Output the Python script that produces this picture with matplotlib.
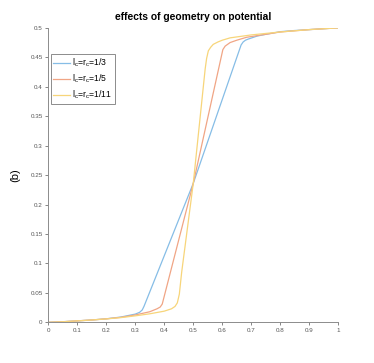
import matplotlib
matplotlib.use('Agg')
from matplotlib import pyplot as plt
from matplotlib.ticker import FuncFormatter

# values
X_THIRD = [0, 0.05, 0.1, 0.15, 0.2, 0.25, 0.3, 0.315, 0.324, 0.33, 0.5,
           0.665, 0.672, 0.68, 0.69, 0.72, 0.75, 0.8, 0.85, 0.9, 0.95, 1]
Y_THIRD = [0, 0.001, 0.0025, 0.004, 0.006, 0.009, 0.014, 0.017, 0.021,
           0.027, 0.236, 0.471, 0.476, 0.479, 0.481, 0.486, 0.489, 0.4935,
           0.4955, 0.497, 0.4985, 0.5]

X_FIFTH = [0, 0.05, 0.1, 0.15, 0.2, 0.25, 0.3, 0.35, 0.375, 0.386, 0.393,
           0.5, 0.602, 0.61, 0.627, 0.65, 0.684, 0.75, 0.8, 0.9, 0.95, 1]
Y_FIFTH = [0, 0.001, 0.0025, 0.004, 0.006, 0.0085, 0.0125, 0.018, 0.023,
           0.026, 0.031, 0.236, 0.463, 0.469, 0.475, 0.479, 0.484, 0.489,
           0.493, 0.497, 0.4985, 0.5]

X_ELEVENTH = [0, 0.05, 0.1, 0.15, 0.2, 0.25, 0.3, 0.35, 0.4, 0.425, 0.437,
              0.445, 0.452, 0.46, 0.5, 0.541, 0.546, 0.552, 0.56, 0.569,
              0.585, 0.6, 0.627, 0.7, 0.8, 0.9, 0.95, 1]
Y_ELEVENTH = [0, 0.001, 0.0025, 0.004, 0.0058, 0.008, 0.011, 0.0145, 0.019,
              0.023, 0.027, 0.033, 0.048, 0.085, 0.236, 0.43, 0.448, 0.461,
              0.467, 0.472, 0.476, 0.479, 0.483, 0.488, 0.493, 0.497,
              0.4985, 0.5]

LABELS = ['l$_c$=r$_c$=1/3', 'l$_c$=r$_c$=1/5', 'l$_c$=r$_c$=1/11']
COLORS = ['#86bde6', '#f0a585', '#f7d57a']

X_TICKS = [0, 0.1, 0.2, 0.3, 0.4, 0.5, 0.6, 0.7, 0.8, 0.9, 1]
Y_TICKS = [0, 0.05, 0.1, 0.15, 0.2, 0.25, 0.3, 0.35, 0.4, 0.45, 0.5]


def main():

    plt.rcParams['font.family'] = ['Liberation Sans', 'DejaVu Sans']
    plt.rcParams['mathtext.default'] = 'regular'

    fig = plt.figure(figsize=(3.74, 3.63), dpi=100)
    ax = fig.add_axes([0.129, 0.112, 0.7755, 0.8113])

    series = [(X_THIRD, Y_THIRD), (X_FIFTH, Y_FIFTH), (X_ELEVENTH, Y_ELEVENTH)]
    for (xs, ys), lab, col in zip(series, LABELS, COLORS):
        ax.plot(xs, ys, color=col, linewidth=0.9, label=lab)

    ax.set_xlim(0, 1)
    ax.set_ylim(0, 0.5)
    ax.set_xticks(X_TICKS)
    ax.set_yticks(Y_TICKS)
    fmt = FuncFormatter(lambda v, p: '%g' % v)
    ax.xaxis.set_major_formatter(fmt)
    ax.yaxis.set_major_formatter(fmt)
    ax.tick_params(labelsize=4.5, colors='#555555', length=2, width=0.5,
                   direction='out', pad=2)

    for s in ['top', 'right']:
        ax.spines[s].set_visible(False)
    for s in ['left', 'bottom']:
        ax.spines[s].set_color('#8c8c8c')
        ax.spines[s].set_linewidth(0.7)

    ax.set_title('effects of geometry on potential', fontsize=7.4,
                 fontweight='bold', pad=6)
    ax.set_ylabel('(b)', fontsize=8, labelpad=7)

    leg = ax.legend(loc='upper left', bbox_to_anchor=(0.008, 0.911),
                    borderaxespad=0, fontsize=6.2, handlelength=1.9,
                    handletextpad=0.3, labelspacing=0.4, fancybox=False,
                    framealpha=1, borderpad=0.3)
    leg.get_frame().set_edgecolor('#8c8c8c')
    leg.get_frame().set_linewidth(0.7)

    fig.savefig('out.png', dpi=100)


if __name__ == '__main__':

    main()
